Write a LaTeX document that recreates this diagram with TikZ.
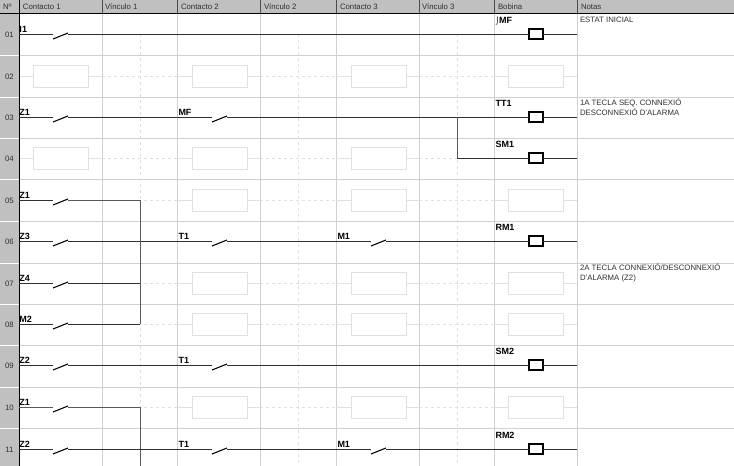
\documentclass[tikz,border=0pt]{standalone}
\usepackage{fontspec}
\setmainfont{Liberation Sans}
\newfontfamily\symfont{DejaVu Sans}
\definecolor{hdr}{HTML}{C0C0C0}
\definecolor{gridc}{HTML}{D0D0D0}
\definecolor{faint}{HTML}{E0E0E0}
\definecolor{txt}{HTML}{303030}
\definecolor{wirec}{HTML}{303030}
\tikzset{
  every node/.style={inner sep=0pt,outer sep=0pt},
  hdrtext/.style={anchor=base west,font=\fontsize{7.8}{9}\selectfont,text=txt},
  numtext/.style={anchor=base,font=\fontsize{7.8}{9}\selectfont,text=txt},
  notetext/.style={anchor=north west,align=left,font=\fontsize{7.8}{9.5}\selectfont,text=txt},
  taglabel/.style={anchor=base west,font=\fontsize{9}{10}\selectfont\bfseries,text=black},
  gridline/.style={draw=gridc,line width=.8pt},
  midline/.style={draw=faint,line width=.8pt,dash pattern=on 3pt off 3pt},
  wire/.style={draw=wirec,line width=.9pt},
  linkwire/.style={draw=black!65,line width=1pt},
  slashline/.style={draw=black,line width=1.1pt},
  contactgap/.style={minimum width=15pt,minimum height=2pt},
  coilbox/.style={draw=black,line width=1.8pt,fill=white,minimum width=14pt,minimum height=10pt},
  emptyslot/.style={draw=faint,line width=.8pt,fill=white,minimum width=55pt,minimum height=22pt},
  emptywire/.style={draw=faint,line width=.8pt},
  emptydash/.style={draw=faint,line width=.8pt,dash pattern=on 3pt off 3pt},
}
% contact: node name, x of column start, rung y, label
\newcommand{\ctc}[4]{%
  \node[contactgap] (#1) at ({#2+41.5},#3) {};
  \draw[slashline] ([yshift=-5pt]#1.west) -- ([yshift=1pt]#1.east);
  \node[taglabel] (#1l) at ({#2+0.5},{#3-1.5}) {#4};
}
% coil: node name, rung y, label
\newcommand{\coil}[3]{%
  \node[coilbox] (#1) at (536,#2) {};
  \node[taglabel] (#1l) at (495.5,{#2-11}) {#3};
}
\newcommand{\slot}[3]{%
  \node[emptyslot] (#1) at (#2,#3) {};
}
\begin{document}
\begin{tikzpicture}[x=1pt,y=-1pt]
\useasboundingbox (0,0) rectangle (734,466);
\fill[white] (0,0) rectangle (734,466);
% header and number column
\fill[hdr] (0,0) rectangle (734,13);
\fill[hdr] (0,0) rectangle (19,466);
% row rules
\foreach \yy in {55,97,138,179,221,263,304,345,387,428} {
  \draw[gridline] (19,\yy) -- (734,\yy);
  \draw[draw=white,line width=.7pt] (0,\yy) -- (19,\yy);
}
% column rules
\foreach \xx in {102,177,260,336,419,494,577} {
  \draw[gridline] (\xx,13) -- (\xx,466);
  \draw[draw=black!70,line width=.8pt] (\xx,0) -- (\xx,13);
}
% dotted link column centres
\foreach \xx in {140,298,457} {
  \draw[midline] (\xx,34) -- (\xx,466);
}
% empty rung guides
\foreach \yy in {76,158,200,283,324,407} {
  \draw[emptydash] (102,\yy) -- (177,\yy);
  \draw[emptydash] (260,\yy) -- (336,\yy);
  \draw[emptydash] (419,\yy) -- (494,\yy);
  \draw[emptywire] (177,\yy) -- (192,\yy);
  \draw[emptywire] (247,\yy) -- (260,\yy);
  \draw[emptywire] (336,\yy) -- (351,\yy);
  \draw[emptywire] (406,\yy) -- (419,\yy);
}
\foreach \yy in {76,158} {
  \draw[emptywire] (19,\yy) -- (33,\yy);
  \draw[emptywire] (88,\yy) -- (102,\yy);
}
\foreach \yy in {76,200,283,324,407} {
  \draw[emptywire] (494,\yy) -- (508,\yy);
  \draw[emptywire] (563,\yy) -- (577,\yy);
}
% empty slots
\foreach \yy/\nn in {76/a,158/b} { \slot{sa\nn}{60.5}{\yy} }
\foreach \yy/\nn in {76/a,158/b,200/c,283/d,324/e,407/f} {
  \slot{sb\nn}{219.5}{\yy}
  \slot{sc\nn}{378.5}{\yy}
}
\foreach \yy/\nn in {76/a,200/c,283/d,324/e,407/f} { \slot{sd\nn}{535.5}{\yy} }
% frame lines
\draw[draw=black,line width=1pt] (0,13) -- (734,13);
\draw[draw=black,line width=1pt] (19,0) -- (19,466);
% header text
\node[hdrtext] (h0) at (3,9) {N\textordmasculine};
\node[hdrtext] (h1) at (23,9) {Contacto 1};
\node[hdrtext] (h2) at (105,9) {Vínculo 1};
\node[hdrtext] (h3) at (181,9) {Contacto 2};
\node[hdrtext] (h4) at (264,9) {Vínculo 2};
\node[hdrtext] (h5) at (340,9) {Contacto 3};
\node[hdrtext] (h6) at (422,9) {Vínculo 3};
\node[hdrtext] (h7) at (498,9) {Bobina};
\node[hdrtext] (h8) at (581,9) {Notas};
% row numbers
\foreach \yy/\tt in {37/01,79/02,120/03,161/04,203/05,244/06,286/07,327/08,368/09,410/10,452/11} {
  \node[numtext] at (9.5,\yy) {\tt};
}
% bus starts, ends
\foreach \nn/\yy in {1/34,3/117,5/200,6/241,7/283,8/324,9/365,10/407,11/449} {
  \coordinate (s\nn) at (19,\yy);
}
\foreach \nn/\yy in {1/34,3/117,4/158,6/241,9/365,11/449} {
  \coordinate (e\nn) at (577,\yy);
}
% rung 01
\ctc{ia}{19}{34}{I1}
\coil{ca}{34}{{\symfont\mdseries\fontsize{7}{8}\selectfont ⌡}MF}
\draw[wire] (s1) -- (ia.west);
\draw[wire] (ia.east) -- (ca.west);
\draw[wire] (ca.east) -- (e1);
% rung 03/04
\ctc{zb}{19}{117}{Z1}
\ctc{mf}{178}{117}{MF}
\coil{tt}{117}{TT1}
\coil{sm}{158}{SM1}
\coordinate (ja) at (457,117);
\coordinate (jb) at (457,158);
\draw[wire] (s3) -- (zb.west);
\draw[wire] (zb.east) -- (mf.west);
\draw[wire] (mf.east) -- (tt.west);
\draw[wire] (tt.east) -- (e3);
\draw[linkwire] (ja) -- (jb);
\draw[wire] (jb) -- (sm.west);
\draw[wire] (sm.east) -- (e4);
% rungs 05-08
\coordinate (ka) at (140,200);
\coordinate (kc) at (140,283);
\coordinate (kd) at (140,324);
\ctc{zc}{19}{200}{Z1}
\ctc{zd}{19}{241}{Z3}
\ctc{ze}{19}{283}{Z4}
\ctc{mb}{19}{324}{M2}
\ctc{ta}{178}{241}{T1}
\ctc{ma}{337}{241}{M1}
\coil{rm}{241}{RM1}
\draw[wire] (s5) -- (zc.west);
\draw[linkwire] (zc.east) -- (ka);
\draw[wire] (s6) -- (zd.west);
\draw[wire] (zd.east) -- (ta.west);
\draw[wire] (ta.east) -- (ma.west);
\draw[wire] (ma.east) -- (rm.west);
\draw[wire] (rm.east) -- (e6);
\draw[wire] (s7) -- (ze.west);
\draw[wire] (ze.east) -- (kc);
\draw[wire] (s8) -- (mb.west);
\draw[wire] (mb.east) -- (kd);
\draw[linkwire] (ka) -- (kd);
% rung 09
\ctc{zf}{19}{365}{Z2}
\ctc{tb}{178}{365}{T1}
\coil{sn}{365}{SM2}
\draw[wire] (s9) -- (zf.west);
\draw[wire] (zf.east) -- (tb.west);
\draw[wire] (tb.east) -- (sn.west);
\draw[wire] (sn.east) -- (e9);
% rungs 10-11
\coordinate (la) at (140,407);
\coordinate (lb) at (140,466);
\ctc{zg}{19}{407}{Z1}
\ctc{zh}{19}{449}{Z2}
\ctc{tc}{178}{449}{T1}
\ctc{mc}{337}{449}{M1}
\coil{ro}{449}{RM2}
\draw[linkwire] (s10) -- (zg.west);
\draw[linkwire] (zg.east) -- (la);
\draw[linkwire] (la) -- (lb);
\draw[wire] (s11) -- (zh.west);
\draw[wire] (zh.east) -- (tc.west);
\draw[wire] (tc.east) -- (mc.west);
\draw[wire] (mc.east) -- (ro.west);
\draw[wire] (ro.east) -- (e11);
% notes
\node[notetext] (na) at (580,17.5) {ESTAT INICIAL};
\node[notetext] (nb) at (580,99) {1A TECLA SEQ. CONNEXIÓ\\DESCONNEXIÓ  D'ALARMA};
\node[notetext] (nc) at (580,264) {2A TECLA CONNEXIÓ/DESCONNEXIÓ\\D'ALARMA (Z2)};
\end{tikzpicture}
\end{document}
